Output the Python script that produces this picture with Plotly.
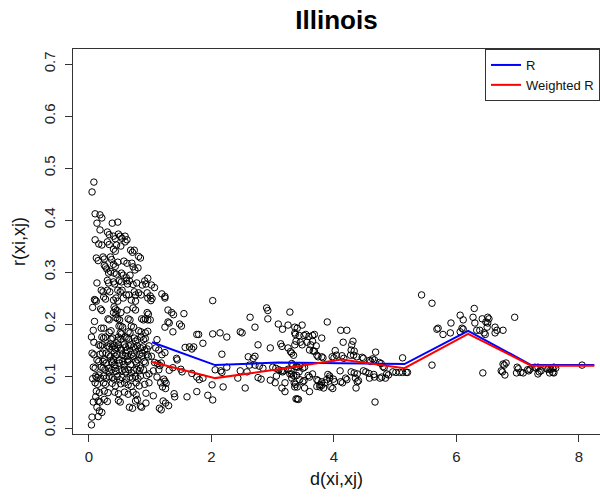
import plotly.graph_objects as go

# ---- scatter data: (distance, correlation) pairs ----
pts_near = [
(0.08,0.473),(0.05,0.454),(0.10,0.412),(0.18,0.41),(0.21,0.404),(0.13,0.394),(0.38,0.394),(0.47,0.396),(0.18,0.381),(0.30,0.377),
(0.33,0.372),(0.40,0.369),(0.43,0.364),(0.48,0.373),(0.51,0.369),(0.54,0.365),(0.59,0.369),(0.62,0.362),(0.10,0.362),(0.16,0.354),
(0.21,0.352),(0.30,0.358),(0.33,0.353),(0.45,0.352),(0.40,0.344),(0.43,0.340),(0.52,0.350),(0.59,0.358),(0.68,0.342),(0.71,0.338),
(0.74,0.342),(0.81,0.330),(0.84,0.327),(0.12,0.327),(0.15,0.322),(0.23,0.329),(0.25,0.325),(0.35,0.329),(0.37,0.324),(0.25,0.313),
(0.27,0.310),(0.29,0.306),(0.40,0.315),(0.43,0.311),(0.47,0.319),(0.57,0.321),(0.62,0.317),(0.70,0.317),(0.72,0.310),(0.80,0.308),
(0.32,0.298),(0.35,0.301),(0.41,0.298),(0.45,0.296),(0.53,0.298),(0.56,0.294),(0.61,0.289),(0.67,0.294),(0.75,0.304),(0.96,0.288),
(0.13,0.279),(0.30,0.284),(0.32,0.279),(0.40,0.281),(0.42,0.277),(0.49,0.283),(0.53,0.281),(0.61,0.283),(0.63,0.277),(0.66,0.283),
(0.72,0.276),(0.78,0.279),(0.87,0.275),(0.91,0.283),(0.93,0.277),(1.02,0.275),(1.07,0.270),(1.19,0.258),(1.24,0.253),(0.20,0.265),
(0.23,0.262),(0.30,0.265),(0.34,0.262),(0.47,0.265),(0.51,0.262),(0.54,0.265),(0.61,0.256),(0.65,0.256),(0.74,0.262),(0.76,0.256),
(0.81,0.260),(0.85,0.256),(0.95,0.260),(1.00,0.254),(1.03,0.249),(0.10,0.246),
(0.09,0.247),(0.12,0.244),(0.24,0.252),(0.27,0.248),(0.40,0.246),(0.44,0.250),(0.47,0.244),(0.56,0.250),(0.69,0.246),(0.76,0.244),
(0.96,0.250),(1.01,0.245),(0.19,0.229),(0.21,0.226),(0.41,0.233),(0.43,0.229),(0.46,0.226),(0.40,0.222),(0.44,0.219),(0.52,0.222),
(0.62,0.227),(0.72,0.231),(0.76,0.227),(0.95,0.222),(0.97,0.219),(1.29,0.227),(0.31,0.210),(0.33,0.208),(0.44,0.212),(0.47,0.210),
(0.50,0.208),(0.64,0.210),(0.67,0.208),(0.86,0.210),(0.89,0.208),(0.92,0.210),(0.96,0.208),(1.00,0.208),(1.29,0.204),(0.49,0.196),
(0.52,0.196),(0.55,0.194),(0.69,0.196),(0.73,0.194),(0.07,0.188),(0.20,0.192),(0.24,0.192),(0.33,0.184),(0.36,0.187),(0.51,0.183),
(0.53,0.181),(0.64,0.185),(0.67,0.183),(0.81,0.187),(0.85,0.185),(0.92,0.183),(0.96,0.186),(1.24,0.194),(0.21,0.175),(0.24,0.173),
(0.27,0.175),(0.36,0.171),(0.39,0.173),(0.47,0.169),(0.48,0.175),(0.52,0.171),(0.59,0.175),(0.62,0.173),(0.65,0.171),(0.74,0.173),
(0.76,0.167),(0.79,0.170),(0.85,0.175),(0.89,0.170),(0.92,0.172),(1.11,0.170),(0.16,0.160),(0.19,0.158),(0.22,0.160),(0.30,0.158),
(0.33,0.156),(0.35,0.162),(0.38,0.156),(0.41,0.158),(0.43,0.152),(0.46,0.154),(0.48,0.160),(0.51,0.154),(0.53,0.150),(0.57,0.160),
(0.60,0.156),(0.62,0.150),(0.65,0.158),(0.68,0.160),(0.73,0.156),(0.76,0.152),(0.79,0.158),(0.84,0.154),(0.88,0.156),(0.91,0.150),
(0.95,0.152),(0.98,0.158),(1.09,0.154),(1.14,0.150),(0.05,0.144),(0.08,0.141),(0.18,0.142),(0.22,0.144),(0.28,0.144),(0.32,0.141),
(0.35,0.138),(0.41,0.144),(0.43,0.138),(0.46,0.141),(0.55,0.141),(0.59,0.138),(0.60,0.144),(0.63,0.138),(0.69,0.141),(0.72,0.138),
(0.74,0.144),(0.82,0.141),(0.86,0.138),(0.87,0.144),(0.95,0.141),(0.97,0.137),(1.02,0.138),(0.13,0.131),(0.16,0.128),(0.23,0.128),
(0.25,0.131),(0.28,0.125),(0.37,0.128),(0.38,0.125),(0.40,0.131),(0.42,0.122),(0.49,0.131),(0.50,0.125),(0.55,0.128),(0.57,0.122),
(0.63,0.128),(0.65,0.131),(0.68,0.122),(0.76,0.128),(0.78,0.125),(0.80,0.131),(0.90,0.128),(0.92,0.125),(1.07,0.126),(1.12,0.124),
(0.07,0.117),(0.10,0.115),(0.20,0.117),(0.23,0.115),(0.26,0.112),(0.32,0.115),(0.33,0.108),(0.37,0.112),(0.43,0.115),(0.44,0.109),
(0.49,0.112),(0.54,0.110),(0.58,0.113),(0.60,0.108),(0.65,0.112),(0.69,0.106),(0.73,0.111),(0.78,0.113),(0.82,0.110),(0.84,0.115),
(0.89,0.112),(1.05,0.110),(1.14,0.112),(0.11,0.100),(0.13,0.097),(0.16,0.102),(0.19,0.096),(0.24,0.100),(0.28,0.096),(0.33,0.099),
(0.38,0.097),(0.41,0.094),(0.46,0.099),(0.50,0.093),(0.54,0.097),(0.61,0.094),(0.67,0.098),(0.71,0.096),(0.76,0.099),(0.80,0.095),
(0.84,0.100),(0.94,0.101),(0.98,0.104),(1.11,0.098),(0.10,0.087),(0.14,0.084),(0.24,0.087),(0.27,0.084),(0.38,0.086),(0.43,0.081),
(0.52,0.085),(0.58,0.087),(0.64,0.083),(0.69,0.080),(0.77,0.087),(0.82,0.081),(0.91,0.084),(0.98,0.087),(1.17,0.087),(0.12,0.071),
(0.17,0.068),(0.25,0.071),(0.31,0.068),(0.42,0.069),(0.48,0.066),(0.58,0.069),(0.64,0.065),(0.72,0.069),(0.77,0.064),(0.93,0.067),
(1.05,0.062),(0.15,0.052),(0.18,0.050),(0.25,0.055),(0.30,0.051),(0.48,0.053),(0.51,0.050),(0.76,0.052),(0.79,0.055),(0.84,0.042),
(0.86,0.040),(0.66,0.040),(0.71,0.038),(0.93,0.048),(0.07,0.050),(0.17,0.033),(0.21,0.030),(1.15,0.038),(1.18,0.035),(0.05,0.021),
(0.04,0.006),(0.06,0.232),(0.09,0.205),(0.04,0.175),(0.08,0.165),(0.06,0.095),(0.11,0.060),(0.13,0.040),(0.15,0.022),
]

pts_mid = [
(1.24,0.250),(2.02,0.245),(1.35,0.222),(1.38,0.218),(1.55,0.220),(1.31,0.202),(1.48,0.200),(1.51,0.196),(1.37,0.185),(1.76,0.180),
(1.79,0.180),(2.02,0.181),(2.14,0.183),(2.25,0.175),(1.86,0.163),(1.64,0.156),(1.68,0.152),(1.71,0.156),(1.57,0.155),(1.24,0.145),
(1.19,0.141),(1.43,0.134),(1.44,0.131),(2.17,0.142),(1.18,0.125),(1.16,0.120),(1.37,0.116),(1.31,0.111),(1.50,0.113),(1.52,0.108),
(1.68,0.105),(1.76,0.098),(1.80,0.093),(1.86,0.096),(2.01,0.083),(2.06,0.112),(2.15,0.110),(2.17,0.107),(2.25,0.117),(2.19,0.079),
(1.22,0.094),(1.24,0.090),(1.26,0.086),(1.20,0.079),(1.25,0.076),(1.39,0.066),(1.40,0.060),(1.60,0.060),(1.76,0.070),(1.94,0.063),
(1.21,0.052),(1.25,0.048),(1.30,0.043),(2.02,0.054),
(2.47,0.185),(2.50,0.183),(2.63,0.213),(2.71,0.194),(2.90,0.231),(2.92,0.226),(2.92,0.210),(3.09,0.200),(3.16,0.190),(3.28,0.223),
(3.25,0.198),(3.36,0.194),(3.40,0.192),(3.36,0.183),(2.76,0.160),(2.96,0.154),(3.13,0.162),(3.15,0.157),(3.25,0.154),(2.71,0.138),
(2.68,0.134),(2.60,0.137),(2.62,0.121),(2.71,0.121),(2.78,0.119),(2.84,0.115),(3.00,0.117),(3.05,0.115),(3.10,0.112),(3.14,0.110),
(3.16,0.108),(3.18,0.110),(3.25,0.113),(3.30,0.110),(3.31,0.104),(3.41,0.117),(3.43,0.108),(2.47,0.110),(2.58,0.108),(2.55,0.077),
(2.43,0.096),(2.76,0.097),(2.81,0.094),(2.96,0.092),(3.04,0.087),(3.06,0.100),(3.20,0.087),(3.15,0.077),(3.31,0.096),(3.36,0.079),
(3.20,0.070),(3.40,0.056),(3.42,0.055),
(3.48,0.198),(3.37,0.180),(3.43,0.178),(3.51,0.178),(3.54,0.180),(3.59,0.176),(3.65,0.178),(3.68,0.180),(3.38,0.167),(3.36,0.160),
(3.45,0.165),(3.48,0.160),(3.56,0.165),(3.65,0.167),(3.62,0.160),(3.71,0.158),(3.80,0.173),(3.89,0.204),(4.11,0.188),(4.21,0.188),
(4.15,0.165),(4.31,0.167),(4.29,0.160),(4.28,0.150),(4.33,0.148),(3.29,0.147),(3.31,0.144),(3.34,0.140),(3.60,0.150),(3.66,0.148),
(3.68,0.148),(3.72,0.140),(3.74,0.137),(3.80,0.137),(3.82,0.135),(3.97,0.137),(4.00,0.135),(4.04,0.140),(4.02,0.149),(4.13,0.139),
(4.16,0.134),(4.27,0.140),(4.32,0.140),(4.37,0.137),(4.46,0.136),(4.48,0.134),(4.58,0.130),(4.60,0.128),(4.68,0.146),(4.63,0.133),
(4.66,0.131),(4.74,0.126),(4.77,0.124),(4.80,0.118),(4.82,0.116),(4.86,0.104),(4.89,0.102),(4.96,0.108),(5.01,0.107),(5.07,0.107),
(5.12,0.107),(5.18,0.107),(5.20,0.107),(5.12,0.135),(4.75,0.096),(4.78,0.098),(4.84,0.096),(4.58,0.096),(4.66,0.098),(3.31,0.124),
(3.33,0.121),(3.38,0.118),(3.44,0.120),(3.49,0.115),(3.52,0.117),(3.28,0.104),(3.34,0.101),(3.39,0.101),(3.44,0.093),(3.49,0.089),
(3.51,0.091),(3.58,0.101),(3.60,0.098),(3.65,0.104),(3.72,0.093),(3.74,0.091),(3.77,0.083),(3.80,0.089),(3.85,0.087),(3.88,0.093),
(3.93,0.096),(3.99,0.094),(4.01,0.089),(3.95,0.079),(3.98,0.076),(4.11,0.089),(4.14,0.087),(4.19,0.096),(4.21,0.093),(4.35,0.096),
(4.38,0.089),(4.40,0.091),(4.28,0.108),(4.33,0.106),(4.38,0.104),(3.35,0.087),(3.37,0.084),(3.40,0.079),(3.52,0.077),(3.60,0.070),
(3.72,0.080),(3.77,0.079),(3.83,0.077),(3.80,0.082),(3.38,0.056),(4.36,0.077),(4.67,0.050),(3.90,0.103),(3.93,0.100),(4.10,0.110),
(4.48,0.110),(4.52,0.108),(4.57,0.105),(4.65,0.103),
]

pts_far = [
(5.43,0.256),(5.60,0.240),(5.68,0.190),(5.70,0.192),(5.78,0.180),(5.91,0.202),(5.90,0.183),(6.06,0.217),(6.11,0.208),(6.09,0.192),
(6.11,0.190),(6.06,0.185),(6.29,0.230),(6.27,0.213),(6.30,0.202),(6.33,0.188),(6.42,0.210),(6.48,0.204),(6.51,0.202),(6.53,0.210),
(6.51,0.213),(6.50,0.194),(6.38,0.188),(6.45,0.183),(6.47,0.180),(6.63,0.194),(6.66,0.188),(6.63,0.183),(6.76,0.188),(6.95,0.213),
(5.60,0.121),(6.43,0.106),(6.76,0.123),(6.78,0.121),(6.81,0.125),(6.73,0.110),(6.75,0.108),(6.79,0.102),(6.99,0.117),(7.01,0.114),
(6.98,0.106),(7.05,0.107),(7.09,0.106),(7.16,0.112),(7.18,0.110),(7.20,0.113),(7.28,0.117),(7.30,0.115),(7.33,0.117),(7.35,0.108),
(7.38,0.110),(7.46,0.115),(7.49,0.113),(7.51,0.115),(7.54,0.113),(7.57,0.115),(7.59,0.117),(7.62,0.115),(7.52,0.106),(7.57,0.107),
(7.59,0.106),(7.33,0.104),(8.05,0.121),
]

# ---- line data (binned estimates) ----
bin_x = [1.03, 2.06, 3.09, 4.12, 5.15, 6.19, 7.22, 8.25]
r_plain = [0.165, 0.121, 0.126, 0.125, 0.123, 0.187, 0.121, 0.121]
r_weighted = [0.127, 0.096, 0.113, 0.132, 0.115, 0.181, 0.120, 0.120]

x_ticks = [0, 2, 4, 6, 8]
y_ticks = [0.0, 0.1, 0.2, 0.3, 0.4, 0.5, 0.6, 0.7]

all_pts = pts_near + pts_mid + pts_far
dist = [p[0] for p in all_pts]
corr = [p[1] for p in all_pts]

FONT = "Liberation Sans, Arial, sans-serif"

fig = go.Figure()
fig.add_trace(go.Scatter(
    x=dist, y=corr, mode="markers", showlegend=False,
    marker=dict(symbol="circle-open", size=6.5, color="black", line=dict(width=1, color="black")),
    hoverinfo="skip"))
fig.add_trace(go.Scatter(x=bin_x, y=r_plain, mode="lines", name="R",
                         line=dict(color="#0000FF", width=2)))
fig.add_trace(go.Scatter(x=bin_x, y=r_weighted, mode="lines", name="Weighted R",
                         line=dict(color="#FF0000", width=2)))

axis_common = dict(showgrid=False, zeroline=False, showline=True, mirror=True,
                   linecolor="#333333", linewidth=1, ticks="outside", ticklen=7,
                   tickcolor="#333333", tickwidth=1,
                   tickfont=dict(family=FONT, size=15, color="#222222"))

fig.update_layout(
    width=600, height=504,
    margin=dict(l=73, r=0, t=49, b=70),
    paper_bgcolor="white", plot_bgcolor="white",
    font=dict(family=FONT, color="#111111"),
    title=dict(text="<b>Illinois</b>", font=dict(family=FONT, size=26, color="black"),
               x=0.5, xref="paper", xanchor="center",
               y=1 - 20 / 504, yref="container", yanchor="middle"),
    xaxis=dict(range=[-0.261, 8.343], tickvals=x_ticks, ticktext=[str(v) for v in x_ticks],
               title=dict(text="d(xi,xj)", font=dict(family=FONT, size=18, color="#111111"), standoff=8),
               ticklabelstandoff=2, **axis_common),
    yaxis=dict(range=[-0.0115, 0.729], tickvals=y_ticks, ticktext=[f"{v:.1f}" for v in y_ticks],
               tickangle=-90,
               title=dict(text="r(xi,xj)", font=dict(family=FONT, size=18, color="#111111"), standoff=10),
               ticklabelstandoff=4, **axis_common),
    legend=dict(x=1, y=1, xanchor="right", yanchor="top", bordercolor="#333333", borderwidth=1,
                bgcolor="white", font=dict(family=FONT, size=13, color="#111111"),
                tracegroupgap=0, itemwidth=30),
)

fig.write_html("out.html")
